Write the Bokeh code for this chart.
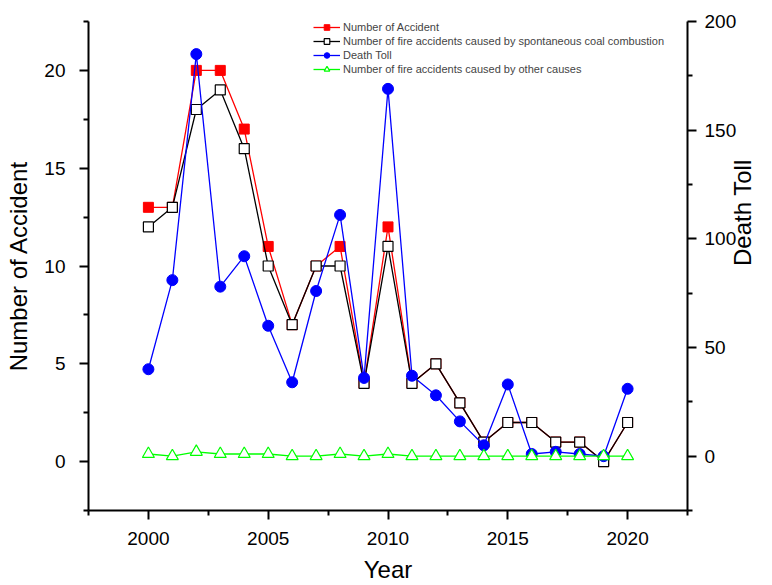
import math
from bokeh.plotting import figure
from bokeh.models import Range1d, LinearAxis, FixedTicker, Legend, LegendItem
from bokeh.embed import file_html
from bokeh.resources import INLINE

years = list(range(2000, 2021))
accidents = [13, 13, 20, 20, 17, 11, 7, 10, 11, 4, 12, 4, 5, 3, 1, 2, 2, 1, 1, 0, 2]
spontaneous = [12, 13, 18, 19, 16, 10, 7, 10, 10, 4, 11, 4, 5, 3, 1, 2, 2, 1, 1, 0, 2]
death_toll = [40, 81, 185, 78, 92, 60, 34, 76, 111, 36, 169, 37, 28, 16, 5, 33, 1, 2, 1, 0, 31]
other_causes = [1, 0, 2, 1, 1, 1, 0, 0, 1, 0, 1, 0, 0, 0, 0, 0, 0, 0, 0, 0, 0]

x_ticks = [2000, 2005, 2010, 2015, 2020]
x_minor = [1997.5, 2002.5, 2007.5, 2012.5, 2017.5, 2022.5]
left_ticks = [0, 5, 10, 15, 20]
left_minor = [-2.5, 2.5, 7.5, 12.5, 17.5, 22.5]
right_ticks = [0, 50, 100, 150, 200]
right_minor = [-25, 25, 75, 125, 175]

FONT = "Liberation Sans"

p = figure(width=772, height=585, output_backend="svg", toolbar_location=None,
           x_range=Range1d(1997.5, 2022.5), y_range=Range1d(-2.5, 22.5),
           min_border_left=88, min_border_right=80, min_border_top=21, min_border_bottom=74)
p.extra_y_ranges = {"death": Range1d(-25, 200)}
p.outline_line_color = None
p.xgrid.visible = False
p.ygrid.visible = False
p.background_fill_color = "white"

def style_axis(ax, label):
    ax.axis_label = label
    ax.axis_label_text_font = FONT
    ax.axis_label_text_font_style = "normal"
    ax.axis_label_text_font_size = "24px"
    ax.major_label_text_font = FONT
    ax.major_label_text_font_size = "19px"
    ax.axis_line_width = 2
    ax.major_tick_line_width = 2
    ax.minor_tick_line_width = 2
    ax.major_tick_out = 9
    ax.major_tick_in = 0
    ax.minor_tick_out = 5
    ax.minor_tick_in = 0
    ax.axis_line_color = "black"
    ax.major_tick_line_color = "black"
    ax.minor_tick_line_color = "black"
    ax.major_label_text_color = "black"
    ax.axis_label_text_color = "black"

xax = p.xaxis[0]
style_axis(xax, "Year")
xax.ticker = FixedTicker(ticks=x_ticks, minor_ticks=x_minor)
xax.major_label_standoff = 12
xax.axis_label_standoff = 8

yax = p.yaxis[0]
style_axis(yax, "Number of Accident")
yax.ticker = FixedTicker(ticks=left_ticks, minor_ticks=left_minor)
yax.major_label_standoff = 14
yax.axis_label_standoff = 9

rax = LinearAxis(y_range_name="death")
style_axis(rax, "Death Toll")
rax.ticker = FixedTicker(ticks=right_ticks, minor_ticks=right_minor)
rax.major_label_standoff = 8
rax.axis_label_standoff = 3
rax.axis_label_orientation = math.pi / 2
p.add_layout(rax, "right")

lw = 1.3
r1l = p.line(years, accidents, line_color="#FF0000", line_width=lw)
r1s = p.scatter(years, accidents, marker="square", size=10, fill_color="#FF0000", line_color="#FF0000")
r2l = p.line(years, spontaneous, line_color="black", line_width=lw)
r2s = p.scatter(years, spontaneous, marker="square", size=10, fill_color="white", line_color="black", line_width=1.2)
r3l = p.line(years, death_toll, line_color="#0000FF", line_width=lw, y_range_name="death")
r3s = p.scatter(years, death_toll, marker="circle", size=11, fill_color="#0000FF", line_color="#0000FF", y_range_name="death")
r4l = p.line(years, other_causes, line_color="#00FF00", line_width=lw, y_range_name="death")
r4s = p.scatter(years, other_causes, marker="triangle", size=12, fill_color="white", line_color="#00FF00", line_width=1.2, y_range_name="death")

legend = Legend(items=[
    LegendItem(label="Number of Accident", renderers=[r1l, r1s]),
    LegendItem(label="Number of fire accidents caused by spontaneous coal combustion", renderers=[r2l, r2s]),
    LegendItem(label="Death Toll", renderers=[r3l, r3s]),
    LegendItem(label="Number of fire accidents caused by other causes", renderers=[r4l, r4s]),
], location=(225, 434))
legend.glyph_width = 27
legend.glyph_height = 14
legend.label_height = 14
legend.spacing = 0
legend.padding = 0
legend.margin = 0
legend.label_standoff = 3
legend.label_text_font = FONT
legend.label_text_font_size = "11px"
legend.label_text_baseline = "middle"
legend.background_fill_alpha = 0
legend.border_line_color = None
p.add_layout(legend, "center")

open("out.html", "w").write(file_html(p, INLINE))
